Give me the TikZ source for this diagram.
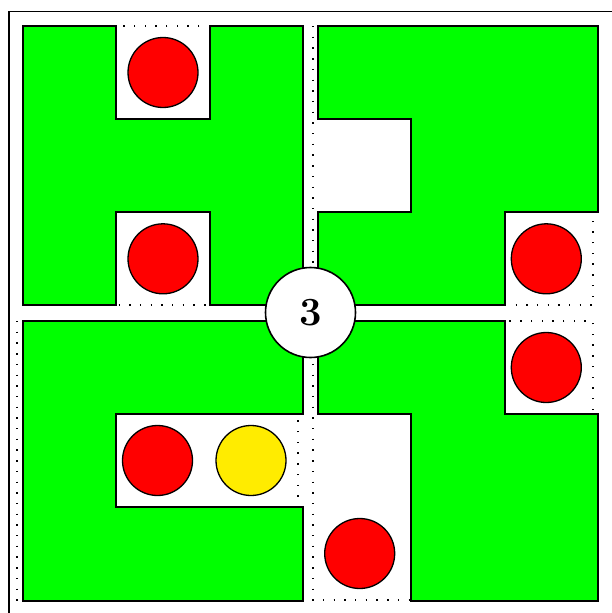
\documentclass[tikz,border=0pt]{standalone}
\begin{document}
\begin{tikzpicture}[x=1pt,y=-1pt,
  piece/.style={fill=green, draw=black, line width=1.8pt, line join=miter},
  grid/.style={draw=black, line width=1.4pt, dash pattern=on 1.4pt off 9.3pt},
  ball/.style={circle, draw=black, line width=1.3pt, minimum size=70pt, inner sep=0pt},
  redball/.style={ball, fill=red},
  yelball/.style={ball, fill=yellowc},
  hub/.style={circle, draw=black, line width=1.6pt, fill=white, minimum size=90pt, inner sep=0pt, font=\fontsize{40}{40}\selectfont\bfseries}]
\definecolor{yellowc}{RGB}{255,236,0}
\useasboundingbox (0,0) rectangle (612,613);
\clip (0,0) rectangle (612,613);
% outer frame
\draw[line width=1.8pt] (9,11.5) rectangle (640,640);
% logical grid outlines (dotted)
\draw[grid] (23,26) rectangle (303,305);
\draw[grid] (313,26) rectangle (593,305);
\draw[grid] (17,321) rectangle (298,600);
\draw[grid] (313,321) rectangle (593,600);
% green pieces
\draw[piece] (23,26) -- (116,26) -- (116,119) -- (210,119) -- (210,26) -- (303,26) -- (303,305) -- (210,305) -- (210,212) -- (116,212) -- (116,305) -- (23,305) -- cycle;
\draw[piece] (318,26) -- (598,26) -- (598,212) -- (505,212) -- (505,305) -- (318,305) -- (318,212) -- (411,212) -- (411,119) -- (318,119) -- cycle;
\draw[piece] (23,321) -- (303,321) -- (303,414) -- (116,414) -- (116,507) -- (303,507) -- (303,601) -- (23,601) -- cycle;
\draw[piece] (318,321) -- (505,321) -- (505,414) -- (598,414) -- (598,601) -- (411,601) -- (411,414) -- (318,414) -- cycle;
% balls
\node[redball] (r1) at (163,72.5) {};
\node[redball] (r2) at (163,258.8) {};
\node[redball] (r3) at (546.3,258.8) {};
\node[redball] (r4) at (157.5,460.5) {};
\node[yelball] (y1) at (251,460.5) {};
\node[redball] (r5) at (546.3,367.5) {};
\node[redball] (r6) at (359.7,553.5) {};
% hub
\node[hub] (hub) at (310.5,312.5) {3};
\end{tikzpicture}
\end{document}
